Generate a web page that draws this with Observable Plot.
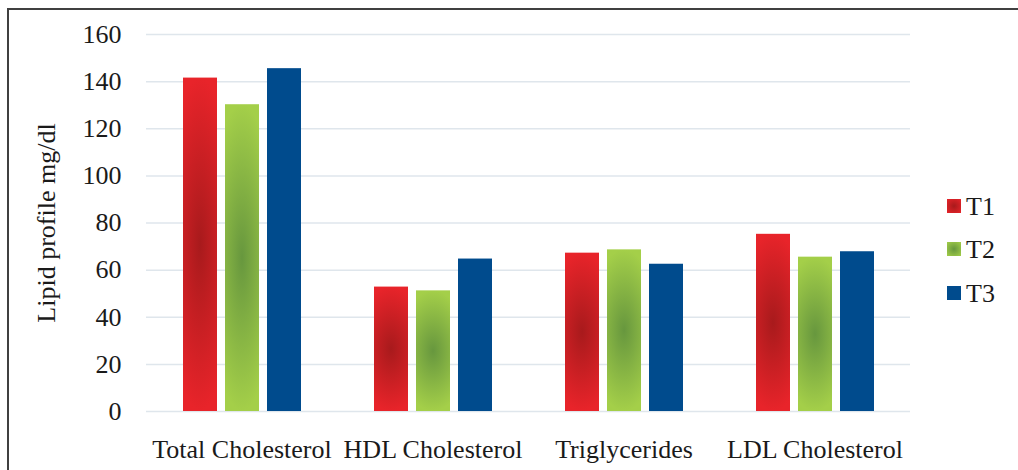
<!DOCTYPE html>
<html>
<head>
<meta charset="utf-8">
<script src="https://cdn.jsdelivr.net/npm/d3@7"></script>
<script src="https://cdn.jsdelivr.net/npm/@observablehq/plot@0.6"></script>
<style>
  html, body { margin: 0; padding: 0; background: #fff; }
  #wrap { position: relative; width: 1018px; height: 470px; overflow: hidden; font-family: "Liberation Serif", "Times New Roman", serif; color: #1a1a1a; }
  #frame { position: absolute; left: 7px; top: 8px; width: 1200px; height: 700px; border-left: 2px solid #404040; border-top: 2px solid #404040; }
  #chart { position: absolute; left: 0; top: 0; }
  .leg-sw { position: absolute; width: 14px; height: 14px; }
  .leg-tx { position: absolute; font-size: 26px; line-height: 26px; white-space: nowrap; }
</style>
</head>
<body>
<div id="wrap">
  <div id="frame"></div>
  <div id="chart"></div>
  <div id="legend"></div>
</div>
<script>
const categories = ["Total Cholesterol", "HDL Cholesterol", "Triglycerides", "LDL Cholesterol"];
const series = ["T1", "T2", "T3"];
const valuesT1 = [141.5, 52.8, 67.2, 75.2];
const valuesT2 = [130.2, 51.2, 68.6, 65.5];
const valuesT3 = [145.5, 64.7, 62.5, 67.8];
const yTicks = [0, 20, 40, 60, 80, 100, 120, 140, 160];
const yLabel = "Lipid profile mg/dl";

const seriesValues = [valuesT1, valuesT2, valuesT3];
const data = [];
categories.forEach((c, i) => {
  series.forEach((s, j) => data.push({category: c, series: s, value: seriesValues[j][i]}));
});

const svg = Plot.plot({
  width: 1018,
  height: 470,
  marginLeft: 145,
  marginRight: 108,
  marginTop: 34,
  marginBottom: 59,
  style: {fontFamily: "'Liberation Serif', 'Times New Roman', serif", fontSize: "26px", color: "#1a1a1a", background: "transparent", overflow: "visible"},
  fx: {domain: categories, padding: 0, label: null, tickSize: 0, tickPadding: 28},
  x: {domain: series, paddingInner: 0.2, paddingOuter: 0.87, axis: null},
  y: {domain: [0, 160], ticks: yTicks, tickSize: 0, tickPadding: 25, label: yLabel, labelArrow: "none", labelAnchor: "center", labelOffset: 110},
  color: {domain: series, range: ["url(#gT1)", "url(#gT2)", "#004b8d"]},
  marks: [
    Plot.ruleY(yTicks, {stroke: "#dfe6ec", strokeWidth: 1.5}),
    Plot.barY(data, {fx: "category", x: "series", y: "value", fill: "series"})
  ]
});

d3.select(svg).insert("defs", ":first-child").html(`
  <radialGradient id="gT1" cx="0.5" cy="0.5" r="0.5" gradientTransform="translate(0.5,0.5) scale(2,1) translate(-0.5,-0.5)">
    <stop offset="0" stop-color="#a81a1c"/>
    <stop offset="1" stop-color="#e8242a"/>
  </radialGradient>
  <radialGradient id="gT2" cx="0.5" cy="0.5" r="0.5" gradientTransform="translate(0.5,0.5) scale(2,1) translate(-0.5,-0.5)">
    <stop offset="0" stop-color="#67973e"/>
    <stop offset="1" stop-color="#a4cf49"/>
  </radialGradient>
`);

document.getElementById("chart").appendChild(svg);

const legendColors = [
  "radial-gradient(circle, #a81a1c 0%, #e8242a 100%)",
  "radial-gradient(circle, #67973e 0%, #a4cf49 100%)",
  "#004b8d"
];
const legendCenters = [206, 249, 293];
const leg = document.getElementById("legend");
series.forEach((s, i) => {
  const sw = document.createElement("div");
  sw.className = "leg-sw";
  sw.style.left = "947px";
  sw.style.top = (legendCenters[i] - 7) + "px";
  sw.style.background = legendColors[i];
  leg.appendChild(sw);
  const tx = document.createElement("div");
  tx.className = "leg-tx";
  tx.style.left = "966px";
  tx.style.top = (legendCenters[i] + 9.7 - 21.8) + "px";
  tx.textContent = s;
  leg.appendChild(tx);
});
</script>
</body>
</html>
